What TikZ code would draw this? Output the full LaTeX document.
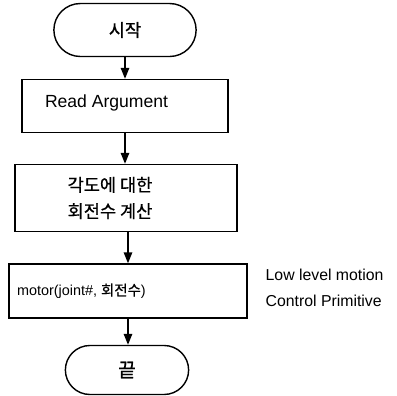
\documentclass[tikz,border=0pt]{standalone}
\usepackage{fontspec}
\setmainfont{Liberation Sans}
\newfontfamily\kr[FakeBold=0.8]{Noto Sans CJK KR}
\usetikzlibrary{shapes.misc, arrows.meta, positioning}

\begin{document}
\begin{tikzpicture}[x=0.02cm, y=-0.02cm, line width=0.8pt,
    font=\fontsize{10}{12}\selectfont,
    term/.style={rounded rectangle, draw, minimum height=1.06cm},
    procbox/.style={rectangle, draw},
    flow/.style={-{Triangle[length=2.2mm, width=1.7mm]}}]
  % keep the page the size of the reference
  \useasboundingbox (0,0) rectangle (397,396);

  % start terminal
  \node [term, minimum width=3.08cm] at (125,30) (start) {\kr 시작};

  % the three process boxes
  \node [procbox, minimum width=4.12cm, minimum height=1.06cm]
         at (125,106) (readarg) {\makebox[3.2cm][l]{Read Argument}\rule[-6pt]{0pt}{0pt}};
  \node [procbox, minimum width=4.44cm, minimum height=1.34cm, align=center]
         at (126,198) (calc)
         {\kr 각도에 대한\hspace*{0.64cm}\\[3pt]\kr 회전수 계산\hspace*{0.64cm}};
  \node [procbox, minimum width=4.76cm, minimum height=1.08cm,
         font=\fontsize{8.2}{10}\selectfont]
         at (128,291) (motor) {\makebox[4.44cm][l]{motor(joint\#, {\kr 회전수})}};

  % end terminal
  \node [term, minimum width=2.7cm, minimum height=0.98cm,
         font=\fontsize{11}{13}\selectfont] at (127,370) (stop) {\kr 끝};

  % side note
  \node [anchor=west, align=left, inner sep=0pt,
         font=\fontsize{9}{14.7}\selectfont]
         at (265,288) (note) {Low level motion\\Control Primitive};

  % connectors
  \draw [flow] (start.south) -- (start.south |- readarg.north);
  \draw [flow] (readarg.south) -- (readarg.south |- calc.north);
  \draw [flow] (motor.north |- calc.south) -- (motor.north);
  \draw [flow] (motor.south) -- (motor.south |- stop.north);
\end{tikzpicture}
\end{document}
